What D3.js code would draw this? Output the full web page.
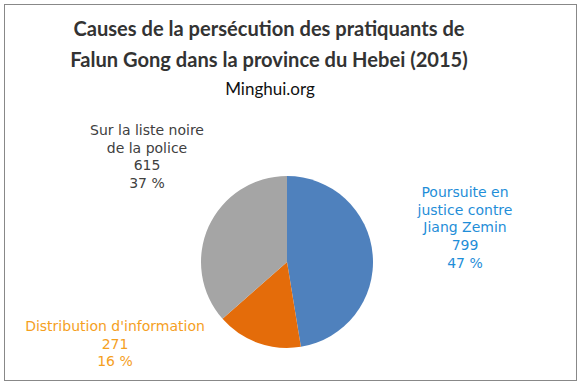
<!DOCTYPE html>
<html>
<head>
<meta charset="utf-8">
<script src="https://cdn.jsdelivr.net/npm/d3@7"></script>
<style>
  body { margin: 0; background: #fff; }
</style>
</head>
<body>
<svg id="chart" width="582" height="385"></svg>
<script>
// data
const categories = ["Poursuite en justice contre Jiang Zemin", "Distribution d'information", "Sur la liste noire de la police"];
const values = [799, 271, 615];
const percentLabels = ["47 %", "16 %", "37 %"];
const labelLines = [
  ["Poursuite en", "justice contre", "Jiang Zemin"],
  ["Distribution d'information"],
  ["Sur la liste noire", "de la police"]
];
const colors = ["#4f81bd", "#e46c0a", "#a5a5a5"];
const labelColors = ["#1f8ed8", "#f5a01e", "#404040"];
const labelPos = [[465, 197], [115, 331], [147, 135]];

const svg = d3.select("#chart");

svg.append("rect")
  .attr("x", 4.5).attr("y", 4.5)
  .attr("width", 572).attr("height", 376)
  .attr("fill", "#fff")
  .attr("stroke", "#888").attr("stroke-width", 1);

const titleLines = ["Causes de la persécution des pratiquants de", "Falun Gong dans la province du Hebei (2015)"];
svg.selectAll(".title")
  .data(titleLines)
  .enter().append("text")
  .attr("class", "title")
  .attr("x", 269)
  .attr("y", (d, i) => 36 + i * 31)
  .attr("text-anchor", "middle")
  .attr("font-family", "Lato, 'Open Sans', sans-serif")
  .attr("font-weight", "bold")
  .attr("font-size", 20.1)
  .attr("fill", "#333")
  .text(d => d);

svg.append("text")
  .attr("x", 270).attr("y", 95)
  .attr("text-anchor", "middle")
  .attr("font-family", "Lato, 'Open Sans', sans-serif")
  .attr("font-size", 17)
  .attr("fill", "#111")
  .text("Minghui.org");

const cx = 287, cy = 262, r = 86;
const pie = d3.pie().sort(null).value(d => d);
const arc = d3.arc().innerRadius(0).outerRadius(r);

const g = svg.append("g").attr("transform", `translate(${cx},${cy})`);
g.selectAll("path")
  .data(pie(values))
  .enter().append("path")
  .attr("d", arc)
  .attr("fill", (d, i) => colors[i]);

categories.forEach((c, i) => {
  const lines = labelLines[i].concat([String(values[i]), percentLabels[i]]);
  const t = svg.append("text")
    .attr("text-anchor", "middle")
    .attr("font-family", "'DejaVu Sans', Verdana, sans-serif")
    .attr("font-size", 14)
    .attr("fill", labelColors[i]);
  lines.forEach((l, j) => {
    t.append("tspan")
      .attr("x", labelPos[i][0])
      .attr("y", labelPos[i][1] + j * 17.7)
      .text(l);
  });
});
</script>
</body>
</html>
